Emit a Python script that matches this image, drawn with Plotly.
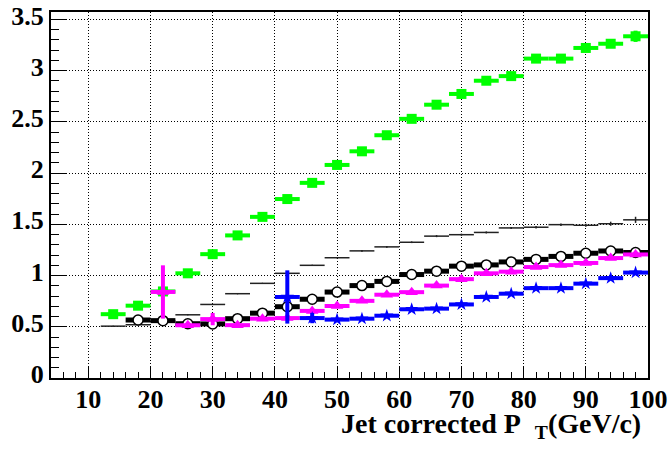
import plotly.graph_objects as go

# Bin centres (GeV/c); every bin is 4 GeV/c wide
pt_all = [14, 18, 22, 26, 30, 34, 38, 42, 46, 50, 54, 58, 62, 66, 70, 74, 78, 82, 86, 90, 94, 98]
bin_half_width = 2.0

# Green squares
green_y = [0.623, 0.706, 0.845, 1.022, 1.209, 1.392, 1.573, 1.747, 1.905, 2.080, 2.213,
           2.370, 2.530, 2.668, 2.773, 2.902, 2.947, 3.118, 3.118, 3.222, 3.263, 3.336]
green_err = [0.01, 0.01, 0.01, 0.01, 0.01, 0.01, 0.01, 0.01, 0.01, 0.01, 0.015,
             0.015, 0.015, 0.02, 0.02, 0.02, 0.02, 0.025, 0.025, 0.04, 0.04, 0.055]

# Thin black reference line
thin_y = [0.506, 0.520, 0.560, 0.617, 0.718, 0.823, 0.924, 1.022, 1.100, 1.174, 1.241,
          1.280, 1.325, 1.385, 1.399, 1.421, 1.465, 1.472, 1.497, 1.491, 1.506, 1.544]
thin_err = [0.005, 0.005, 0.005, 0.005, 0.005, 0.005, 0.005, 0.005, 0.006, 0.006, 0.008,
            0.008, 0.008, 0.01, 0.01, 0.01, 0.01, 0.012, 0.012, 0.015, 0.02, 0.03]

# Open black circles (start at 18 GeV/c)
pt_circ = [18, 22, 26, 30, 34, 38, 42, 46, 50, 54, 58, 62, 66, 70, 74, 78, 82, 86, 90, 94, 98]
circ_y = [0.566, 0.560, 0.530, 0.528, 0.579, 0.633, 0.696, 0.769, 0.839, 0.902, 0.943,
          1.010, 1.043, 1.092, 1.104, 1.133, 1.158, 1.187, 1.218, 1.240, 1.225]
circ_err = [0.01, 0.01, 0.01, 0.01, 0.01, 0.01, 0.01, 0.01, 0.01, 0.01, 0.01,
            0.01, 0.01, 0.01, 0.01, 0.015, 0.015, 0.015, 0.02, 0.02, 0.02]

# Magenta triangles (start at 22 GeV/c)
pt_tri = [22, 26, 30, 34, 38, 42, 46, 50, 54, 58, 62, 66, 70, 74, 78, 82, 86, 90, 94, 98]
tri_y = [0.840, 0.515, 0.575, 0.516, 0.579, 0.585, 0.655, 0.703, 0.753, 0.813, 0.838,
         0.902, 0.965, 1.022, 1.038, 1.083, 1.102, 1.123, 1.171, 1.206]
tri_err = [0.26, 0.02, 0.06, 0.02, 0.02, 0.02, 0.02, 0.015, 0.015, 0.015, 0.015,
           0.015, 0.015, 0.015, 0.015, 0.015, 0.015, 0.02, 0.02, 0.02]

# Blue stars (start at 42 GeV/c)
pt_star = [42, 46, 50, 54, 58, 62, 66, 70, 74, 78, 82, 86, 90, 94, 98]
star_y = [0.791, 0.585, 0.570, 0.579, 0.608, 0.671, 0.677, 0.718, 0.791, 0.823, 0.877,
          0.877, 0.921, 0.975, 1.029]
star_err = [0.26, 0.05, 0.015, 0.015, 0.015, 0.015, 0.015, 0.015, 0.015, 0.015, 0.015,
            0.015, 0.015, 0.015, 0.02]

x_ticks = [10, 20, 30, 40, 50, 60, 70, 80, 90, 100]
y_ticks = [0, 0.5, 1, 1.5, 2, 2.5, 3, 3.5]


def series(x, y, yerr, color, bar_w, marker):
    return go.Scatter(
        x=x, y=y, mode="markers", marker=marker, showlegend=False,
        error_x=dict(type="constant", value=bin_half_width, color=color,
                     thickness=bar_w, width=0),
        error_y=dict(type="data", array=yerr, color=color,
                     thickness=bar_w, width=0),
    )


fig = go.Figure()
fig.add_trace(series(pt_all, green_y, green_err, "#00ff00", 4,
                     dict(symbol="square", size=10, color="#00ff00",
                          line=dict(width=0))))
fig.add_trace(series(pt_all, thin_y, thin_err, "#222222", 1.5,
                     dict(size=1, color="#222222")))
fig.add_trace(series(pt_circ, circ_y, circ_err, "black", 5,
                     dict(symbol="circle", size=10, color="white",
                          line=dict(width=1.5, color="black"))))
fig.add_trace(series(pt_tri, tri_y, tri_err, "#ff00ff", 4,
                     dict(symbol="triangle-up", size=11, color="#ff00ff",
                          line=dict(width=0))))
fig.add_trace(series(pt_star, star_y, star_err, "#0000ff", 4,
                     dict(symbol="star", size=10, color="#0000ff",
                          line=dict(width=0))))

axis_common = dict(
    showline=True, linecolor="black", linewidth=2, mirror=True,
    showgrid=True, gridcolor="black", gridwidth=1, griddash="1px,2px",
    zeroline=False, ticks="inside", tickcolor="black", tickwidth=1,
    ticklabeloverflow="allow",
)

fig.update_xaxes(
    range=[4, 100], tickvals=x_ticks, ticklen=11, ticklabelstandoff=-3,
    minor=dict(dtick=2, tick0=0, ticks="inside", ticklen=6,
               tickcolor="black", tickwidth=1, showgrid=False),
    **axis_common,
)
fig.update_yaxes(
    range=[0, 3.573], tickvals=y_ticks, ticklen=16, ticklabelshift=-4,
    minor=dict(dtick=0.1, tick0=0, ticks="inside", ticklen=8,
               tickcolor="black", tickwidth=1, showgrid=False),
    **axis_common,
)

fig.add_annotation(
    text="Jet corrected P\u00a0\u00a0<sub>T</sub>(GeV/c)",
    xref="paper", yref="paper", x=0.9916, y=-0.13,
    xanchor="right", yanchor="middle", showarrow=False,
    font=dict(family="Liberation Serif", size=28, color="black", weight="bold"),
)

fig.update_layout(
    width=672, height=451,
    margin=dict(l=51, r=24, t=2, b=73),
    paper_bgcolor="white", plot_bgcolor="white",
    font=dict(family="Liberation Serif", size=26, color="black", weight="bold"),
)

fig.write_html("out.html")
